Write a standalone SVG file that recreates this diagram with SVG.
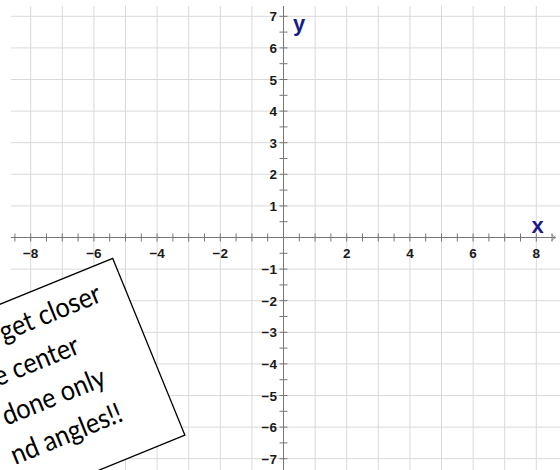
<svg xmlns="http://www.w3.org/2000/svg" width="560" height="470" viewBox="0 0 560 470">
<style>
.grid{stroke:#d9d9d9;stroke-width:1;fill:none}
.axis{stroke:#777;stroke-width:1;fill:none}
.tick{stroke:#777;stroke-width:1}
.num{font-family:"Liberation Sans",Arial,sans-serif;font-size:13.5px;font-weight:bold;fill:#1a1a1a}
.xl{text-anchor:middle}
.yl{text-anchor:end}
.var{font-family:"Liberation Sans",Arial,sans-serif;font-size:22px;font-weight:bold;fill:#1a1a8a}
.note{font-family:Lato,"Open Sans",sans-serif;font-size:28px;fill:#000;text-anchor:end}
</style>
<defs>
<marker id="arr" markerWidth="8" markerHeight="8" refX="6" refY="4" orient="auto" markerUnits="userSpaceOnUse">
<path d="M1,1 L6,4 L1,7" fill="none" stroke="#9a9a9a" stroke-width="1"/>
</marker>
</defs>
<rect width="560" height="470" fill="#fff"/>
<g id="grid">
<path class="grid" d="M30.7,6V470M62.3,6V470M93.9,6V470M125.5,6V470M157.1,6V470M188.7,6V470M220.3,6V470M251.9,6V470M315.1,6V470M346.7,6V470M378.3,6V470M409.9,6V470M441.5,6V470M473.1,6V470M504.7,6V470M536.3,6V470"/>
<path class="grid" d="M11,16.3H560M11,47.9H560M11,79.5H560M11,111.1H560M11,142.7H560M11,174.3H560M11,205.9H560M11,269.1H560M11,300.7H560M11,332.3H560M11,363.9H560M11,395.5H560M11,427.1H560M11,458.7H560"/>
</g>
<g id="axes">
<path class="axis" d="M11,237.5H556" marker-end="url(#arr)"/>
<path class="axis" d="M283.5,6V470"/>
<path class="tick" d="M14.9,233.5v8M30.7,233.5v8M46.5,233.5v8M62.3,233.5v8M78.1,233.5v8M93.9,233.5v8M109.7,233.5v8M125.5,233.5v8M141.3,233.5v8M157.1,233.5v8M172.9,233.5v8M188.7,233.5v8M204.5,233.5v8M220.3,233.5v8M236.1,233.5v8M251.9,233.5v8M267.7,233.5v8M299.3,233.5v8M315.1,233.5v8M330.9,233.5v8M346.7,233.5v8M362.5,233.5v8M378.3,233.5v8M394.1,233.5v8M409.9,233.5v8M425.7,233.5v8M441.5,233.5v8M457.3,233.5v8M473.1,233.5v8M488.9,233.5v8M504.7,233.5v8M520.5,233.5v8M536.3,233.5v8M552.1,233.5v8"/>
<path class="tick" d="M279.5,16.3h8M279.5,32.1h8M279.5,47.9h8M279.5,63.7h8M279.5,79.5h8M279.5,95.3h8M279.5,111.1h8M279.5,126.9h8M279.5,142.7h8M279.5,158.5h8M279.5,174.3h8M279.5,190.1h8M279.5,205.9h8M279.5,221.7h8M279.5,253.3h8M279.5,269.1h8M279.5,284.9h8M279.5,300.7h8M279.5,316.5h8M279.5,332.3h8M279.5,348.1h8M279.5,363.9h8M279.5,379.7h8M279.5,395.5h8M279.5,411.3h8M279.5,427.1h8M279.5,442.9h8M279.5,458.7h8"/>
</g>
<g id="x-labels" class="num xl">
<text x="30.7" y="257.5">−8</text>
<text x="93.9" y="257.5">−6</text>
<text x="157.1" y="257.5">−4</text>
<text x="220.3" y="257.5">−2</text>
<text x="346.7" y="257.5">2</text>
<text x="409.9" y="257.5">4</text>
<text x="473.1" y="257.5">6</text>
<text x="536.3" y="257.5">8</text>
</g>
<g id="y-labels" class="num yl">
<text x="277" y="21.3">7</text>
<text x="277" y="52.9">6</text>
<text x="277" y="84.5">5</text>
<text x="277" y="116.1">4</text>
<text x="277" y="147.7">3</text>
<text x="277" y="179.3">2</text>
<text x="277" y="210.9">1</text>
<text x="277" y="274.1">−1</text>
<text x="277" y="305.7">−2</text>
<text x="277" y="337.3">−3</text>
<text x="277" y="368.9">−4</text>
<text x="277" y="400.5">−5</text>
<text x="277" y="432.1">−6</text>
<text x="277" y="463.7">−7</text>
</g>
<g id="axis-names">
<text class="var" x="293" y="30.5">y</text>
<text class="var" x="537.5" y="233" text-anchor="middle">x</text>
</g>
<g id="note" transform="translate(112.7,258.3) rotate(-22.2)">
<rect x="-400" y="0" width="400" height="191" fill="#fff" stroke="#000" stroke-width="1.3"/>
<g transform="scale(0.9,1)">
<text class="note" x="-28" y="36">get closer</text>
<text class="note" x="-72" y="75.5">e center</text>
<text class="note" x="-58" y="115">done only</text>
<text class="note" x="-56" y="154.5">nd angles!!</text>
</g>
</g>
</svg>
